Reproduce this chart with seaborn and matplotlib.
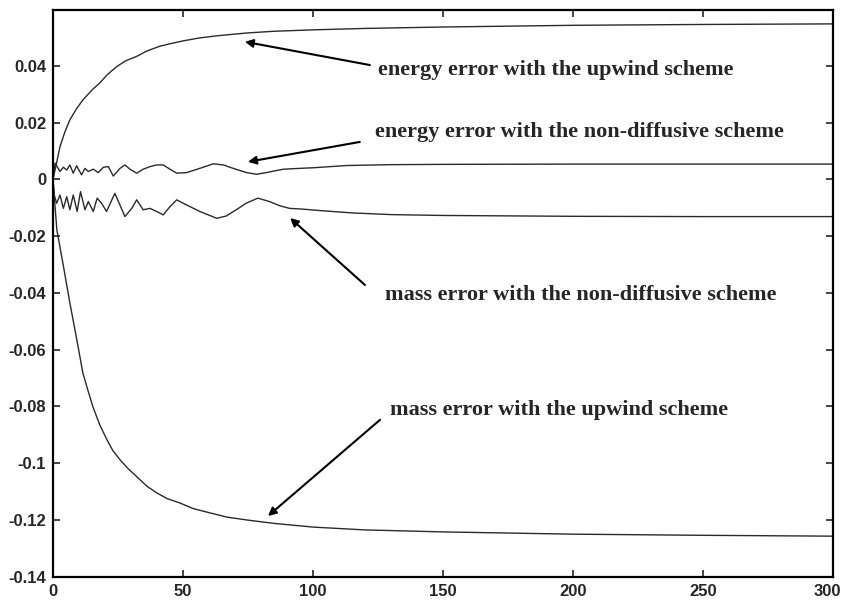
import numpy as np
import pandas as pd
import matplotlib
matplotlib.use("Agg")
import matplotlib.pyplot as plt
import matplotlib.transforms as mtransforms
import seaborn as sns

# ---- data ----
t_energy_upwind = [0, 0.8, 2.7, 4.5, 6.5, 9, 11.5, 15, 18, 21, 24.6, 28, 32.3, 36, 41, 45, 50, 56, 63,
                   74.6, 85, 100, 120, 150, 200, 250, 300]
v_energy_upwind = [0, 0.0033, 0.0115, 0.0165, 0.021, 0.0248, 0.028, 0.0315, 0.034, 0.037, 0.0398,
                   0.0418, 0.0434, 0.0452, 0.0469, 0.0478, 0.0488, 0.0498, 0.0506, 0.0516, 0.0522,
                   0.0527, 0.0532, 0.0537, 0.0543, 0.0546, 0.0548]

t_mass_upwind = [0, 1.5, 3.8, 6.5, 9.2, 11.5, 13.5, 15.4, 18, 20.8, 23, 25.8, 29, 32.3, 36, 40, 44,
                 48.8, 54, 60.4, 67, 74.6, 85, 100, 120, 150, 200, 250, 300]
v_mass_upwind = [0, -0.0178, -0.0294, -0.0435, -0.0566, -0.0682, -0.0745, -0.0802, -0.0865, -0.0918,
                 -0.0955, -0.0988, -0.1020, -0.1048, -0.1080, -0.1105, -0.1125, -0.1140, -0.1160,
                 -0.1175, -0.1190, -0.1200, -0.1212, -0.1225, -0.1235, -0.1242, -0.1250, -0.1254,
                 -0.1257]

t_energy_nd = [0, 0.8, 2.7, 4, 5.3, 6.5, 7.8, 9.1, 11, 12.3, 13.6, 15.5, 17.4, 19.4, 21.3, 23.2, 25.8,
               27.7, 29.6, 32.2, 34.7, 37.3, 39.9, 42.4, 45, 47.6, 51.4, 56.5, 61.7, 65.5, 69.3, 74.5,
               78.3, 82, 88.6, 95, 100, 113, 130, 150, 200, 250, 300]
v_energy_nd = [0, 0.0057, 0.0028, 0.0043, 0.0033, 0.0051, 0.0022, 0.0048, 0.0016, 0.0039, 0.0028,
               0.0036, 0.0024, 0.0043, 0.0045, 0.0012, 0.0039, 0.0051, 0.0036, 0.0022, 0.0036, 0.0045,
               0.0051, 0.0051, 0.0036, 0.0022, 0.0024, 0.0039, 0.0055, 0.0051, 0.0039, 0.0024, 0.0018,
               0.0024, 0.0036, 0.0039, 0.0041, 0.0049, 0.0052, 0.0053, 0.0054, 0.0054, 0.0054]

t_mass_nd = [0, 0.5, 1.4, 2.7, 4, 5.3, 6.5, 7.8, 9.3, 10.6, 12.3, 13.6, 15.5, 17, 18.7, 20.6, 23.8,
             27.7, 30.3, 32.2, 34.7, 37.3, 39.9, 42.4, 45, 47.6, 51.4, 56.5, 63, 66.6, 70.5, 74.3,
             78.8, 83.3, 87.3, 91, 95, 103, 115, 130, 150, 200, 250, 300]
v_mass_nd = [0, -0.0055, -0.0084, -0.0055, -0.0102, -0.0061, -0.0107, -0.0055, -0.0113, -0.0043,
             -0.0107, -0.0078, -0.0113, -0.0066, -0.0084, -0.0113, -0.0049, -0.0131, -0.0102, -0.0072,
             -0.0107, -0.0102, -0.0113, -0.0125, -0.0096, -0.0072, -0.0090, -0.0113, -0.0137, -0.0129,
             -0.0107, -0.0084, -0.0066, -0.0078, -0.0093, -0.0102, -0.0104, -0.0110, -0.0118, -0.0124,
             -0.0127, -0.0130, -0.0131, -0.0131]

x_ticks = [0, 50, 100, 150, 200, 250, 300]
y_ticks = [0.04, 0.02, 0, -0.02, -0.04, -0.06, -0.08, -0.1, -0.12, -0.14]
y_tick_labels = ["0.04", "0.02", "0", "-0.02", "-0.04", "-0.06", "-0.08", "-0.1", "-0.12", "-0.14"]

labels = ["energy error with the upwind scheme",
          "energy error with the non-diffusive scheme",
          "mass error with the non-diffusive scheme",
          "mass error with the upwind scheme"]

# ---- plot ----
sns.set_style("white")
fig = plt.figure(figsize=(8.42, 6.05), dpi=100)
ax = fig.add_axes([0.0629, 0.0467, 0.9264, 0.9368])

series = [(t_energy_upwind, v_energy_upwind, "eu"), (t_mass_upwind, v_mass_upwind, "mu"),
          (t_energy_nd, v_energy_nd, "en"), (t_mass_nd, v_mass_nd, "mn")]
frames = [pd.DataFrame({"t": t, "v": v, "s": s}) for t, v, s in series]
df = pd.concat(frames, ignore_index=True)
for s in ["eu", "mu", "en", "mn"]:
    sub = df[df.s == s]
    sns.lineplot(data=sub, x="t", y="v", ax=ax, color="#2a2a2a", linewidth=1.0,
                 sort=False, estimator=None, legend=False)

ax.set_xlim(0, 300)
ax.set_ylim(-0.14, 0.0597)
ax.set_xticks(x_ticks)
ax.set_xticklabels([str(x) for x in x_ticks], fontsize=12, fontweight="bold", family="Liberation Sans")
ax.set_yticks(y_ticks)
ax.set_yticklabels(y_tick_labels, fontsize=12, fontweight="bold", family="Liberation Sans")
ax.set_xlabel("")
ax.set_ylabel("")
ax.tick_params(direction="in", length=5, width=1.2, top=True, right=True, bottom=True, left=True,
               labelsize=12, pad=5)
for sp in ax.spines.values():
    sp.set_visible(True)
    sp.set_linewidth(1.6)
    sp.set_color("black")

# keep the last x label inside the figure
last = ax.get_xticklabels()[-1]
last.set_transform(last.get_transform() +
                   mtransforms.ScaledTranslation(-6 / 100, 0, fig.dpi_scale_trans))

# annotations (text position, arrow tail, arrow head)
txt_pos = [(125, 0.0386), (123.8, 0.0167), (127.7, -0.0407), (129.6, -0.0812)]
arrow_tail = [(121.9, 0.0403), (118, 0.0132), (120, -0.0372), (125.8, -0.0847)]
arrow_head = [(73.8, 0.0485), (75, 0.0062), (91.2, -0.0136), (82.7, -0.1186)]
for lab, tp, tl, hd in zip(labels, txt_pos, arrow_tail, arrow_head):
    ax.text(tp[0], tp[1], lab, fontsize=16, fontweight="bold", family="Liberation Serif",
            ha="left", va="center")
    ax.annotate("", xy=hd, xytext=tl,
                arrowprops=dict(arrowstyle="-|>", color="black", lw=1.5, mutation_scale=12,
                                shrinkA=0, shrinkB=0))

fig.savefig("out.png", dpi=100)
